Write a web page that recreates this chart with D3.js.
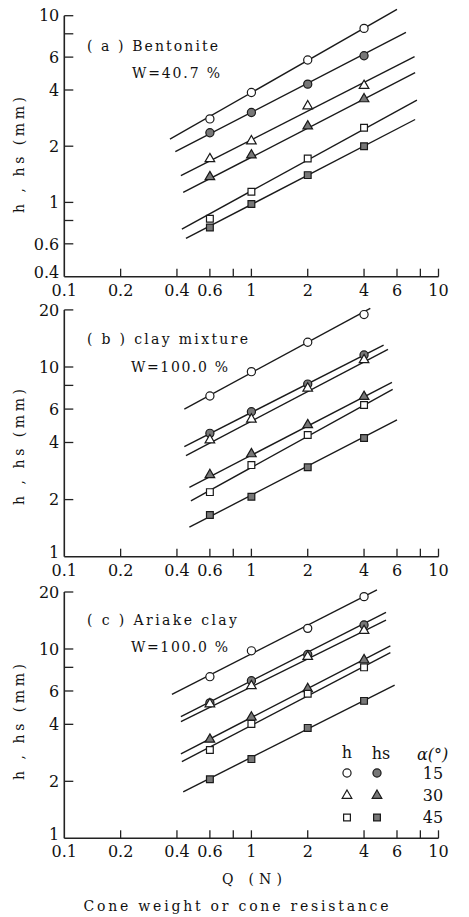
<!DOCTYPE html>
<html>
<head>
<meta charset="utf-8">
<script src="https://cdn.jsdelivr.net/npm/d3@7"></script>
<style>
  html, body { margin: 0; padding: 0; background: #fff; }
  svg { display: block; font-family: "DejaVu Serif", serif; }
  svg text { font-family: "DejaVu Serif", serif; }
</style>
</head>
<body>
<svg id="chart" width="469" height="917"></svg>
<script>
// ---------------- DATA ----------------
const Q = [0.6, 1, 2, 4];                       // cone weight (N)
const xTicks = [0.2, 0.4, 0.6, 0.8, 1, 2, 4, 6, 8, 10];
const xTickLabels = [0.1, 0.2, 0.4, 0.6, 1, 2, 4, 6, 10];

const seriesKeys = ["h15", "hs15", "h30", "hs30", "h45", "hs45"];

// (a) Bentonite W=40.7%
const aValues = {
  h15:  [2.80, 3.88, 5.79, 8.55],
  hs15: [2.36, 3.03, 4.30, 6.10],
  h30:  [1.71, 2.13, 3.28, 4.22],
  hs30: [1.37, 1.79, 2.56, 3.58],
  h45:  [0.818, 1.14, 1.72, 2.51],
  hs45: [0.734, 0.98, 1.40, 2.00]
};
const aLineStart = [[0.367, 2.18], [0.392, 1.87], [0.42, 1.39], [0.432, 1.13], [0.425, 0.72], [0.447, 0.641]];
const aLineEnd   = [[6.0, 10.8], [6.7, 8.14], [7.45, 6.03], [7.5, 4.95], [7.67, 3.53], [7.5, 2.78]];
const aYTicks = [0.6, 0.8, 1, 2, 4, 6, 8, 10];
const aYLabels = [0.4, 0.6, 1, 2, 4, 6, 10];

// (b) clay mixture W=100.0%
const bValues = {
  h15:  [7.03, 9.45, 13.5, 18.9],
  hs15: [4.47, 5.81, 8.13, 11.57],
  h30:  [4.12, 5.30, 7.72, 10.9],
  hs30: [2.70, 3.48, 4.95, 6.98],
  h45:  [2.19, 3.04, 4.38, 6.31],
  hs45: [1.66, 2.07, 2.96, 4.22]
};
const bLineStart = [[0.438, 6.0], [0.438, 3.80], [0.447, 3.41], [0.466, 2.32], [0.475, 1.97], [0.466, 1.43]];
const bLineEnd   = [[4.32, 20.4], [5.09, 13.06], [5.37, 12.4], [5.64, 8.3], [5.69, 7.62], [6.0, 5.26]];
const bYTicks = [2, 4, 6, 8, 10, 20];
const bYLabels = [1, 2, 4, 6, 10, 20];

// (c) Ariake clay W=100.0%
const cValues = {
  h15:  [7.14, 9.78, 12.85, 18.9],
  hs15: [5.19, 6.80, 9.35, 13.4],
  h30:  [5.12, 6.38, 9.11, 12.5],
  hs30: [3.33, 4.36, 6.16, 8.75],
  h45:  [2.93, 4.02, 5.80, 8.0],
  hs45: [2.05, 2.62, 3.83, 5.32]
};
const cLineStart = [[0.376, 5.76], [0.42, 4.39], [0.42, 4.13], [0.42, 2.79], [0.425, 2.54], [0.432, 1.76]];
const cLineEnd   = [[4.69, 20.5], [5.24, 15.6], [5.24, 14.2], [5.53, 10.4], [5.53, 9.56], [5.83, 6.45]];
const cYTicks = [2, 4, 6, 8, 10, 20];
const cYLabels = [1, 2, 4, 6, 10, 20];

const panelTitles = ["( a )  Bentonite", "( b )  clay  mixture", "( c )  Ariake  clay"];
const panelWater = ["W=40.7 %", "W=100.0 %", "W=100.0 %"];
const yAxisTitle = "h , hs (mm)";
const xAxisTitle = "Q  (N)";
const xAxisSubtitle = "Cone weight or cone resistance";

const legendCols = ["h", "hs"];
const legendAngles = ["15", "30", "45"];
const legendAngleTitle = "α(°)";

// ---------------- LAYOUT / STYLE ----------------
const markerStyle = {
  h15:  { shape: "circle",   filled: false },
  hs15: { shape: "circle",   filled: true },
  h30:  { shape: "triangle", filled: false },
  hs30: { shape: "triangle", filled: true },
  h45:  { shape: "square",   filled: false },
  hs45: { shape: "square",   filled: true }
};
const X_LEFT = 64.3, X_RIGHT = 438.5;
const TICK_FS = 16, LABEL_FS = 14;

const panels = [
  { values: aValues, ls: aLineStart, le: aLineEnd, yTicks: aYTicks, yLabels: aYLabels,
    domain: [0.4, 10], range: [276.7, 15.7],
    title: [87, 51, 131], water: [132, 78, 88], yTitleY: 155 },
  { values: bValues, ls: bLineStart, le: bLineEnd, yTicks: bYTicks, yLabels: bYLabels,
    domain: [1, 20], range: [556.7, 309.9],
    title: [87, 344, 161], water: [131, 372, 97], yTitleY: 447 },
  { values: cValues, ls: cLineStart, le: cLineEnd, yTicks: cYTicks, yLabels: cYLabels,
    domain: [1, 20], range: [838.3, 592.0],
    title: [87, 625, 150], water: [131, 652, 97], yTitleY: 722 }
];

const svg = d3.select("#chart");
svg.append("rect").attr("width", 469).attr("height", 917).attr("fill", "#fff");

const x = d3.scaleLog().domain([0.1, 10]).range([X_LEFT, X_RIGHT]);

function drawMarker(g, cx, cy, key) {
  const st = markerStyle[key];
  const size = { circle: 52, triangle: 40, square: 46 }[st.shape];
  const sym = d3.symbol(
    st.shape === "circle" ? d3.symbolCircle : st.shape === "triangle" ? d3.symbolTriangle : d3.symbolSquare,
    size);
  g.append("path")
    .attr("d", sym())
    .attr("transform", `translate(${cx},${cy})`)
    .attr("fill", st.filled ? "#777" : "#fff")
    .attr("stroke", "#1a1a1a")
    .attr("stroke-width", 1.2);
}

panels.forEach((p, pi) => {
  const y = d3.scaleLog().domain(p.domain).range(p.range);
  const g = svg.append("g");
  const yBottom = p.range[0], yTop = p.range[1];

  // x axis
  g.append("line").attr("x1", X_LEFT).attr("x2", X_RIGHT)
    .attr("y1", yBottom).attr("y2", yBottom)
    .attr("stroke", "#222").attr("stroke-width", 1.6);
  g.selectAll(".xt").data(xTicks).enter().append("line")
    .attr("x1", d => x(d)).attr("x2", d => x(d))
    .attr("y1", yBottom).attr("y2", yBottom - 8)
    .attr("stroke", "#222").attr("stroke-width", 1.3);
  g.selectAll(".xl").data(xTickLabels).enter().append("text")
    .attr("x", d => x(d)).attr("y", yBottom + 19)
    .attr("text-anchor", "middle").attr("font-size", TICK_FS).attr("fill", "#111")
    .text(d => d);

  // y axis
  g.append("line").attr("x1", X_LEFT).attr("x2", X_LEFT)
    .attr("y1", yTop).attr("y2", yBottom)
    .attr("stroke", "#222").attr("stroke-width", 1.6);
  g.selectAll(".yt").data(p.yTicks).enter().append("line")
    .attr("x1", X_LEFT).attr("x2", X_LEFT + 9)
    .attr("y1", d => y(d)).attr("y2", d => y(d))
    .attr("stroke", "#222").attr("stroke-width", 1.3);
  g.selectAll(".yl").data(p.yLabels).enter().append("text")
    .attr("x", X_LEFT - 5)
    .attr("y", d => y(d) - (d === p.domain[0] ? 4 : 0)).attr("dy", "0.36em")
    .attr("text-anchor", "end").attr("font-size", TICK_FS).attr("fill", "#111")
    .text(d => d);

  // y title
  g.append("text")
    .attr("transform", `translate(24,${p.yTitleY}) rotate(-90)`)
    .attr("text-anchor", "middle").attr("font-size", LABEL_FS).attr("fill", "#111")
    .attr("textLength", 116).attr("lengthAdjust", "spacing")
    .text(yAxisTitle);

  // panel annotations
  g.append("text").attr("x", p.title[0]).attr("y", p.title[1])
    .attr("font-size", LABEL_FS).attr("fill", "#111")
    .attr("textLength", p.title[2]).attr("lengthAdjust", "spacing")
    .text(panelTitles[pi]);
  g.append("text").attr("x", p.water[0]).attr("y", p.water[1])
    .attr("font-size", LABEL_FS).attr("fill", "#111")
    .attr("textLength", p.water[2]).attr("lengthAdjust", "spacing")
    .text(panelWater[pi]);

  // fit lines
  seriesKeys.forEach((k, i) => {
    g.append("line")
      .attr("x1", x(p.ls[i][0])).attr("y1", y(p.ls[i][1]))
      .attr("x2", x(p.le[i][0])).attr("y2", y(p.le[i][1]))
      .attr("stroke", "#1a1a1a").attr("stroke-width", 1.4);
  });

  // markers (open ones last so they sit on top where overlapping)
  ["hs15", "hs30", "hs45", "h15", "h30", "h45"].forEach(k => {
    p.values[k].forEach((v, j) => drawMarker(g, x(Q[j]), y(v), k));
  });
});

// x axis titles
svg.append("text").attr("x", 252).attr("y", 884).attr("text-anchor", "middle")
  .attr("font-size", LABEL_FS).attr("fill", "#111")
  .attr("textLength", 60).attr("lengthAdjust", "spacing")
  .text(xAxisTitle);
svg.append("text").attr("x", 236).attr("y", 911).attr("text-anchor", "middle")
  .attr("font-size", LABEL_FS).attr("fill", "#111")
  .attr("textLength", 305).attr("lengthAdjust", "spacing")
  .text(xAxisSubtitle);

// legend
const lg = svg.append("g");
const legColX = [347, 377];
const legRowY = [773, 795.5, 817.5];
lg.append("text").attr("x", legColX[0]).attr("y", 758).attr("text-anchor", "middle")
  .attr("font-size", TICK_FS).attr("fill", "#111").text(legendCols[0]);
lg.append("text").attr("x", legColX[1] + 4).attr("y", 759).attr("text-anchor", "middle")
  .attr("font-size", TICK_FS).attr("fill", "#111").text(legendCols[1]);
lg.append("text").attr("x", 417).attr("y", 760)
  .attr("font-size", TICK_FS).attr("font-style", "italic").attr("fill", "#111").text(legendAngleTitle);
legendAngles.forEach((a, i) => {
  lg.append("text").attr("x", 433).attr("y", legRowY[i]).attr("dy", "0.36em")
    .attr("text-anchor", "middle").attr("font-size", TICK_FS).attr("fill", "#111").text(a);
  drawMarker(lg, legColX[0], legRowY[i], seriesKeys[i * 2]);
  drawMarker(lg, legColX[1], legRowY[i], seriesKeys[i * 2 + 1]);
});
</script>
</body>
</html>
